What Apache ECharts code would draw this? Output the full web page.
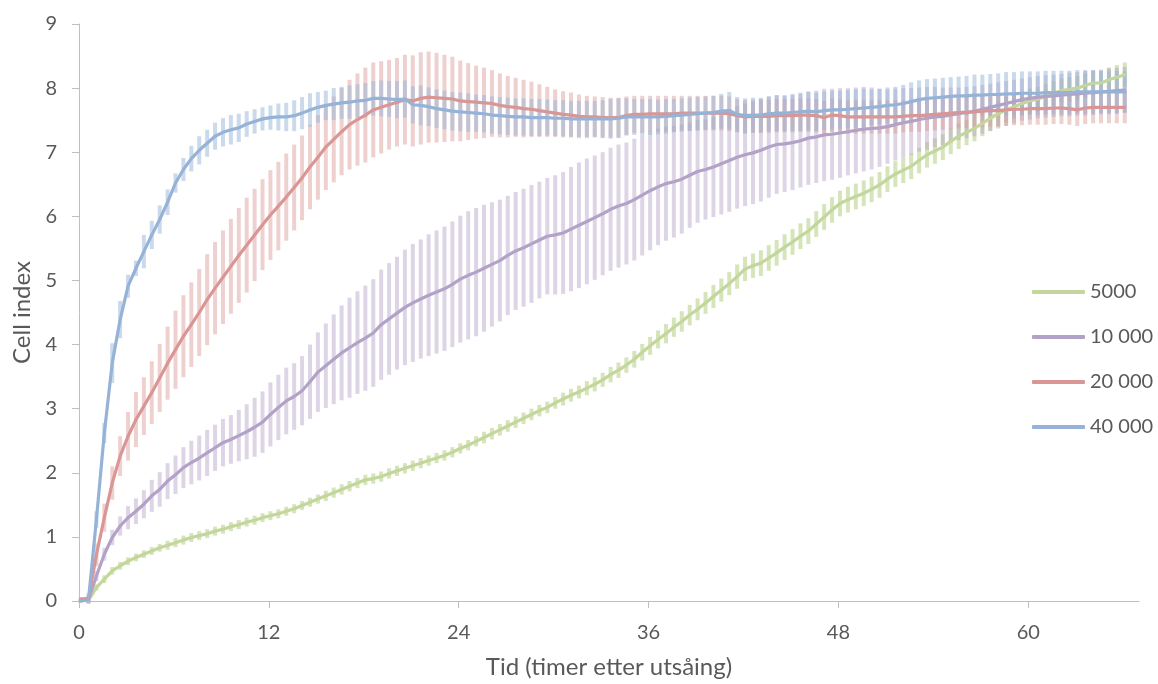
<!DOCTYPE html>
<html>
<head>
<meta charset="utf-8">
<title>Cell index</title>
<script src="https://cdn.jsdelivr.net/npm/echarts@6/dist/echarts.min.js"></script>
<style>
  html, body { margin: 0; padding: 0; background: #fff; }
  #chart { width: 1158px; height: 684px; }
</style>
</head>
<body>
<div id="chart"></div>
<script>
// Måletidspunkt (timer etter utsåing)
var hours = [
  0.1, 0.6, 1.1, 1.6, 2.1, 2.6, 3.1, 3.6, 4.1, 4.6,
  5.1, 5.6, 6.1, 6.6, 7.1, 7.6, 8.1, 8.6, 9.1, 9.6,
  10.1, 10.6, 11.1, 11.6, 12.1, 12.6, 13.1, 13.6, 14.1, 14.6,
  15.1, 15.6, 16.1, 16.6, 17.1, 17.6, 18.1, 18.6, 19.1, 19.6,
  20.1, 20.6, 21.1, 21.6, 22.1, 22.6, 23.1, 23.6, 24.1, 24.6,
  25.1, 25.6, 26.1, 26.6, 27.1, 27.6, 28.1, 28.6, 29.1, 29.6,
  30.1, 30.6, 31.1, 31.6, 32.1, 32.6, 33.1, 33.6, 34.1, 34.6,
  35.1, 35.6, 36.1, 36.6, 37.1, 37.6, 38.1, 38.6, 39.1, 39.6,
  40.1, 40.6, 41.1, 41.6, 42.1, 42.6, 43.1, 43.6, 44.1, 44.6,
  45.1, 45.6, 46.1, 46.6, 47.1, 47.6, 48.1, 48.6, 49.1, 49.6,
  50.1, 50.6, 51.1, 51.6, 52.1, 52.6, 53.1, 53.6, 54.1, 54.6,
  55.1, 55.6, 56.1, 56.6, 57.1, 57.6, 58.1, 58.6, 59.1, 59.6,
  60.1, 60.6, 61.1, 61.6, 62.1, 62.6, 63.1, 63.6, 64.1, 64.6,
  65.1, 65.6, 66.1
];

var seriesNames = ["5000", "10 000", "20 000", "40 000"];
var xTickValues = [0, 12, 24, 36, 48, 60];

// 5000 celler
var mean5000 = [
  0, 0.01, 0.21, 0.34, 0.47, 0.55, 0.62, 0.68, 0.73, 0.78,
  0.83, 0.87, 0.91, 0.95, 0.99, 1.02, 1.05, 1.09, 1.12, 1.16,
  1.19, 1.23, 1.26, 1.3, 1.33, 1.36, 1.4, 1.44, 1.49, 1.54,
  1.59, 1.64, 1.69, 1.74, 1.79, 1.84, 1.89, 1.91, 1.94, 1.99,
  2.03, 2.07, 2.11, 2.15, 2.19, 2.23, 2.27, 2.32, 2.38, 2.43,
  2.49, 2.55, 2.61, 2.67, 2.73, 2.79, 2.85, 2.91, 2.97, 3.02,
  3.09, 3.15, 3.21, 3.26, 3.32, 3.38, 3.45, 3.53, 3.6, 3.68,
  3.77, 3.88, 3.98, 4.08, 4.17, 4.27, 4.36, 4.46, 4.55, 4.65,
  4.75, 4.85, 4.95, 5.06, 5.18, 5.23, 5.27, 5.35, 5.43, 5.52,
  5.6, 5.69, 5.77, 5.88, 5.99, 6.1, 6.2, 6.26, 6.31, 6.36,
  6.42, 6.49, 6.58, 6.66, 6.72, 6.78, 6.87, 6.96, 7.02, 7.08,
  7.17, 7.25, 7.31, 7.37, 7.45, 7.53, 7.6, 7.66, 7.71, 7.76,
  7.8, 7.83, 7.87, 7.92, 7.96, 7.98, 8.0, 8.04, 8.08, 8.08,
  8.13, 8.17, 8.21
];
var sd5000 = [
  0.02, 0.03, 0.05, 0.06, 0.06, 0.06, 0.06, 0.06, 0.06, 0.06,
  0.06, 0.07, 0.07, 0.07, 0.07, 0.07, 0.07, 0.07, 0.07, 0.07,
  0.07, 0.07, 0.07, 0.07, 0.07, 0.07, 0.07, 0.07, 0.07, 0.07,
  0.07, 0.08, 0.08, 0.08, 0.08, 0.08, 0.08, 0.08, 0.08, 0.08,
  0.08, 0.08, 0.08, 0.08, 0.08, 0.08, 0.08, 0.08, 0.08, 0.08,
  0.08, 0.09, 0.09, 0.09, 0.09, 0.09, 0.09, 0.09, 0.09, 0.09,
  0.09, 0.1, 0.1, 0.1, 0.11, 0.11, 0.11, 0.12, 0.12, 0.12,
  0.13, 0.13, 0.14, 0.14, 0.15, 0.15, 0.16, 0.16, 0.17, 0.17,
  0.18, 0.18, 0.18, 0.19, 0.19, 0.19, 0.2, 0.2, 0.2, 0.2,
  0.2, 0.2, 0.2, 0.2, 0.2, 0.2, 0.2, 0.2, 0.2, 0.2,
  0.2, 0.2, 0.2, 0.2, 0.2, 0.2, 0.2, 0.2, 0.2, 0.2,
  0.2, 0.2, 0.2, 0.2, 0.2, 0.2, 0.2, 0.2, 0.19, 0.19,
  0.19, 0.19, 0.19, 0.19, 0.19, 0.19, 0.19, 0.19, 0.19, 0.19,
  0.19, 0.19, 0.19
];

// 10 000 celler
var mean10000 = [
  0, 0.02, 0.39, 0.73, 0.99, 1.17, 1.3, 1.4, 1.51, 1.64,
  1.74, 1.87, 1.97, 2.08, 2.16, 2.23, 2.31, 2.39, 2.47, 2.52,
  2.58, 2.64, 2.71, 2.79, 2.91, 3.02, 3.12, 3.19, 3.28, 3.42,
  3.57, 3.67, 3.77, 3.87, 3.95, 4.03, 4.1, 4.18, 4.31, 4.4,
  4.49, 4.58, 4.65, 4.71, 4.77, 4.82, 4.87, 4.94, 5.02, 5.08,
  5.13, 5.19, 5.25, 5.31, 5.39, 5.46, 5.51, 5.57, 5.63, 5.69,
  5.71, 5.74, 5.8, 5.86, 5.92, 5.98, 6.04, 6.11, 6.16, 6.2,
  6.26, 6.33, 6.4, 6.46, 6.51, 6.54, 6.58, 6.64, 6.7, 6.73,
  6.77, 6.82, 6.87, 6.92, 6.96, 6.99, 7.03, 7.08, 7.12, 7.13,
  7.15, 7.18, 7.22, 7.24, 7.27, 7.28, 7.3, 7.32, 7.34, 7.36,
  7.37, 7.38, 7.4, 7.43, 7.46, 7.48, 7.51, 7.53, 7.55, 7.56,
  7.58, 7.6, 7.62, 7.64, 7.67, 7.7, 7.73, 7.76, 7.79, 7.82,
  7.84, 7.86, 7.87, 7.88, 7.89, 7.9, 7.91, 7.92, 7.93, 7.94,
  7.95, 7.96, 7.97
];
var sd10000 = [
  0.02, 0.05, 0.08, 0.1, 0.12, 0.15, 0.18, 0.2, 0.22, 0.25,
  0.27, 0.28, 0.3, 0.32, 0.34, 0.35, 0.36, 0.36, 0.37, 0.38,
  0.4, 0.43, 0.46, 0.48, 0.5, 0.51, 0.52, 0.52, 0.54, 0.58,
  0.62, 0.66, 0.7, 0.74, 0.78, 0.8, 0.82, 0.84, 0.86, 0.87,
  0.88, 0.9, 0.92, 0.93, 0.95, 0.96, 0.97, 0.98, 0.99, 1.0,
  1.0, 0.99, 0.97, 0.95, 0.93, 0.92, 0.92, 0.92, 0.91, 0.91,
  0.93, 0.95, 0.97, 0.98, 0.98, 0.97, 0.96, 0.96, 0.96, 0.95,
  0.95, 0.94, 0.93, 0.91, 0.89, 0.87, 0.85, 0.82, 0.8, 0.78,
  0.78, 0.79, 0.8, 0.8, 0.8, 0.8, 0.8, 0.79, 0.77, 0.75,
  0.74, 0.73, 0.73, 0.72, 0.72, 0.71, 0.7, 0.68, 0.67, 0.66,
  0.64, 0.61, 0.58, 0.56, 0.54, 0.52, 0.5, 0.49, 0.47, 0.45,
  0.43, 0.41, 0.4, 0.39, 0.38, 0.37, 0.36, 0.35, 0.34, 0.33,
  0.33, 0.33, 0.33, 0.33, 0.33, 0.34, 0.34, 0.35, 0.35, 0.35,
  0.36, 0.36, 0.36
];

// 20 000 celler
var mean20000 = [
  0.03, 0.04, 0.72, 1.3, 1.84, 2.26, 2.57, 2.83, 3.04, 3.25,
  3.48, 3.71, 3.92, 4.13, 4.31, 4.5, 4.7, 4.88, 5.05, 5.22,
  5.39, 5.55, 5.71, 5.87, 6.02, 6.16, 6.3, 6.45, 6.6, 6.77,
  6.92, 7.08, 7.2, 7.32, 7.43, 7.51, 7.58, 7.66, 7.7, 7.74,
  7.78, 7.82, 7.8, 7.84, 7.86, 7.85, 7.84, 7.83, 7.8, 7.79,
  7.78, 7.77, 7.76, 7.73, 7.71, 7.7, 7.68, 7.67, 7.65, 7.63,
  7.61, 7.59, 7.58, 7.56, 7.55, 7.55, 7.54, 7.54, 7.54, 7.57,
  7.59, 7.59, 7.6, 7.6, 7.6, 7.6, 7.61, 7.61, 7.61, 7.61,
  7.61, 7.61, 7.6, 7.57, 7.55, 7.56, 7.56, 7.56, 7.57, 7.57,
  7.57, 7.58, 7.58, 7.57, 7.54, 7.58, 7.57, 7.55, 7.55, 7.55,
  7.55, 7.55, 7.55, 7.55, 7.56, 7.57, 7.57, 7.58, 7.59, 7.6,
  7.61, 7.62, 7.62, 7.63, 7.64, 7.65, 7.65, 7.66, 7.67, 7.67,
  7.68, 7.68, 7.68, 7.69, 7.69, 7.68, 7.66, 7.69, 7.7, 7.7,
  7.7, 7.7, 7.7
];
var sd20000 = [
  0.03, 0.08, 0.18, 0.22, 0.26, 0.31, 0.38, 0.43, 0.45, 0.49,
  0.53, 0.57, 0.61, 0.64, 0.66, 0.68, 0.71, 0.72, 0.73, 0.74,
  0.74, 0.74, 0.72, 0.71, 0.7, 0.69, 0.68, 0.67, 0.66, 0.66,
  0.66, 0.67, 0.67, 0.68, 0.7, 0.72, 0.74, 0.74, 0.72, 0.7,
  0.69, 0.7, 0.71, 0.72, 0.71, 0.7, 0.68, 0.66, 0.63, 0.6,
  0.57, 0.55, 0.52, 0.5, 0.48, 0.46, 0.45, 0.43, 0.41, 0.39,
  0.37, 0.36, 0.35, 0.34, 0.33, 0.32, 0.32, 0.31, 0.31, 0.3,
  0.29, 0.29, 0.28, 0.28, 0.28, 0.28, 0.27, 0.27, 0.27, 0.27,
  0.27, 0.27, 0.27, 0.26, 0.26, 0.26, 0.26, 0.26, 0.26, 0.26,
  0.26, 0.26, 0.26, 0.26, 0.26, 0.26, 0.26, 0.26, 0.26, 0.26,
  0.26, 0.26, 0.26, 0.26, 0.25, 0.25, 0.25, 0.25, 0.25, 0.25,
  0.25, 0.25, 0.25, 0.25, 0.25, 0.25, 0.25, 0.25, 0.25, 0.25,
  0.25, 0.25, 0.25, 0.25, 0.25, 0.25, 0.25, 0.25, 0.25, 0.25,
  0.25, 0.25, 0.25
];

// 40 000 celler
var mean40000 = [
  0, 0.02, 1.27, 2.62, 3.71, 4.39, 4.91, 5.19, 5.45, 5.71,
  5.95, 6.22, 6.52, 6.73, 6.9, 7.03, 7.14, 7.25, 7.31, 7.35,
  7.38, 7.44, 7.48, 7.52, 7.54, 7.55, 7.55, 7.57, 7.61, 7.66,
  7.7, 7.73, 7.75, 7.77, 7.78, 7.8, 7.81, 7.84, 7.84, 7.83,
  7.82, 7.83, 7.74, 7.73, 7.71, 7.68, 7.66, 7.64, 7.63, 7.62,
  7.61, 7.6, 7.58, 7.57, 7.56, 7.55, 7.55, 7.54, 7.54, 7.54,
  7.53, 7.53, 7.52, 7.52, 7.52, 7.52, 7.52, 7.52, 7.53, 7.55,
  7.55, 7.55, 7.55, 7.55, 7.56, 7.57, 7.58, 7.59, 7.6, 7.61,
  7.62, 7.64, 7.65, 7.59, 7.57, 7.58, 7.58, 7.6, 7.61, 7.61,
  7.62, 7.63, 7.64, 7.63, 7.65, 7.66, 7.66, 7.67, 7.68, 7.69,
  7.7, 7.71, 7.73, 7.74, 7.76, 7.79, 7.82, 7.84, 7.85, 7.86,
  7.87, 7.88, 7.88, 7.89, 7.89, 7.9, 7.9, 7.91, 7.91, 7.92,
  7.92, 7.92, 7.93, 7.93, 7.93, 7.93, 7.94, 7.94, 7.94, 7.94,
  7.94, 7.94, 7.94
];
var sd40000 = [
  0.03, 0.06, 0.13, 0.16, 0.31, 0.29, 0.18, 0.12, 0.26, 0.22,
  0.22, 0.2, 0.15, 0.18, 0.2, 0.22, 0.21, 0.21, 0.22, 0.23,
  0.22, 0.2, 0.19, 0.18, 0.19, 0.21, 0.22, 0.24, 0.25, 0.26,
  0.24, 0.23, 0.25, 0.25, 0.26, 0.26, 0.27, 0.27, 0.28, 0.28,
  0.29, 0.29, 0.29, 0.31, 0.3, 0.3, 0.3, 0.3, 0.3, 0.3,
  0.29, 0.29, 0.29, 0.29, 0.29, 0.29, 0.29, 0.29, 0.29, 0.28,
  0.28, 0.28, 0.28, 0.28, 0.28, 0.28, 0.29, 0.31, 0.31, 0.29,
  0.28, 0.28, 0.28, 0.27, 0.27, 0.26, 0.26, 0.26, 0.26, 0.26,
  0.26, 0.27, 0.29, 0.27, 0.27, 0.27, 0.27, 0.27, 0.28, 0.28,
  0.29, 0.3, 0.3, 0.3, 0.3, 0.3, 0.3, 0.3, 0.3, 0.3,
  0.28, 0.28, 0.28, 0.28, 0.29, 0.3, 0.3, 0.3, 0.3, 0.3,
  0.3, 0.3, 0.31, 0.32, 0.32, 0.32, 0.33, 0.34, 0.34, 0.34,
  0.34, 0.34, 0.34, 0.34, 0.34, 0.34, 0.34, 0.34, 0.34, 0.33,
  0.33, 0.33, 0.32
];

var means = [mean5000, mean10000, mean20000, mean40000];
var sds = [sd5000, sd10000, sd20000, sd40000];
var lineColors = ["#c3d69b", "#b3a2c7", "#d99694", "#95b3d7"];
var barColors = ["rgba(178,206,128,0.55)", "rgba(179,162,199,0.45)", "rgba(217,150,148,0.45)", "rgba(149,179,215,0.5)"];

var textColor = "#595959";
var fontFamily = "Lato, 'Open Sans', sans-serif";

// 误差线 (custom series)
function renderErrorBar(params, api) {
  var low = api.coord([api.value(0), api.value(1)]);
  var high = api.coord([api.value(0), api.value(2)]);
  return {
    type: "rect",
    shape: { x: low[0] - 2, y: high[1], width: 4, height: low[1] - high[1] },
    style: { fill: api.visual("color") },
  };
}

var series = [];
// error bars first so the lines sit on top
for (var s = 0; s < 4; s++) {
  series.push({
    name: seriesNames[s] + " sd",
    type: "custom",
    renderItem: renderErrorBar,
    itemStyle: { color: barColors[s] },
    encode: { x: 0, y: [1, 2] },
    data: hours.map(function (h, i) {
      return [h, means[s][i] - sds[s][i], means[s][i] + sds[s][i]];
    }),
    z: 1,
    silent: true,
  });
}
for (var k = 0; k < 4; k++) {
  series.push({
    name: seriesNames[k],
    type: "line",
    showSymbol: false,
    symbol: "none",
    color: lineColors[k],
    lineStyle: { width: 3.2, color: lineColors[k], cap: "round", join: "round" },
    data: hours.map(function (h, i) {
      return [h, means[k][i]];
    }),
    z: 2 + k,
  });
}

var chart = echarts.init(document.getElementById("chart"));

var option = {
  backgroundColor: "#ffffff",
  animation: false,
  grid: { left: 79, right: 19, top: 24, bottom: 82 },
  legend: {
    data: seriesNames,
    orient: "vertical",
    left: 1027,
    top: 275,
    itemWidth: 53,
    itemHeight: 4,
    itemGap: 21,
    icon: "roundRect",
    textStyle: { color: textColor, fontSize: 20, lineHeight: 24, fontFamily: fontFamily },
  },
  xAxis: {
    type: "value",
    min: 0,
    max: 67,
    interval: 12,
    name: "Tid (timer etter utsåing)",
    nameLocation: "middle",
    nameGap: 54,
    nameTextStyle: { color: textColor, fontSize: 24, fontFamily: fontFamily },
    axisLine: { lineStyle: { color: "#bfbfbf", width: 1 } },
    axisTick: { show: true, length: 7, customValues: xTickValues, lineStyle: { color: "#bfbfbf" } },
    axisLabel: { customValues: xTickValues, color: textColor, fontSize: 20, margin: 22, fontFamily: fontFamily },
    splitLine: { show: false },
  },
  yAxis: {
    type: "value",
    min: 0,
    max: 9,
    interval: 1,
    name: "Cell index",
    nameLocation: "middle",
    nameGap: 38,
    nameTextStyle: { color: textColor, fontSize: 24, fontFamily: fontFamily },
    axisLine: { show: true, lineStyle: { color: "#bfbfbf", width: 1 } },
    axisTick: { show: true, length: 7, lineStyle: { color: "#bfbfbf" } },
    axisLabel: { color: textColor, fontSize: 20, margin: 22, fontFamily: fontFamily },
    splitLine: { show: false },
  },
  series: series,
};

chart.setOption(option);
</script>
</body>
</html>
